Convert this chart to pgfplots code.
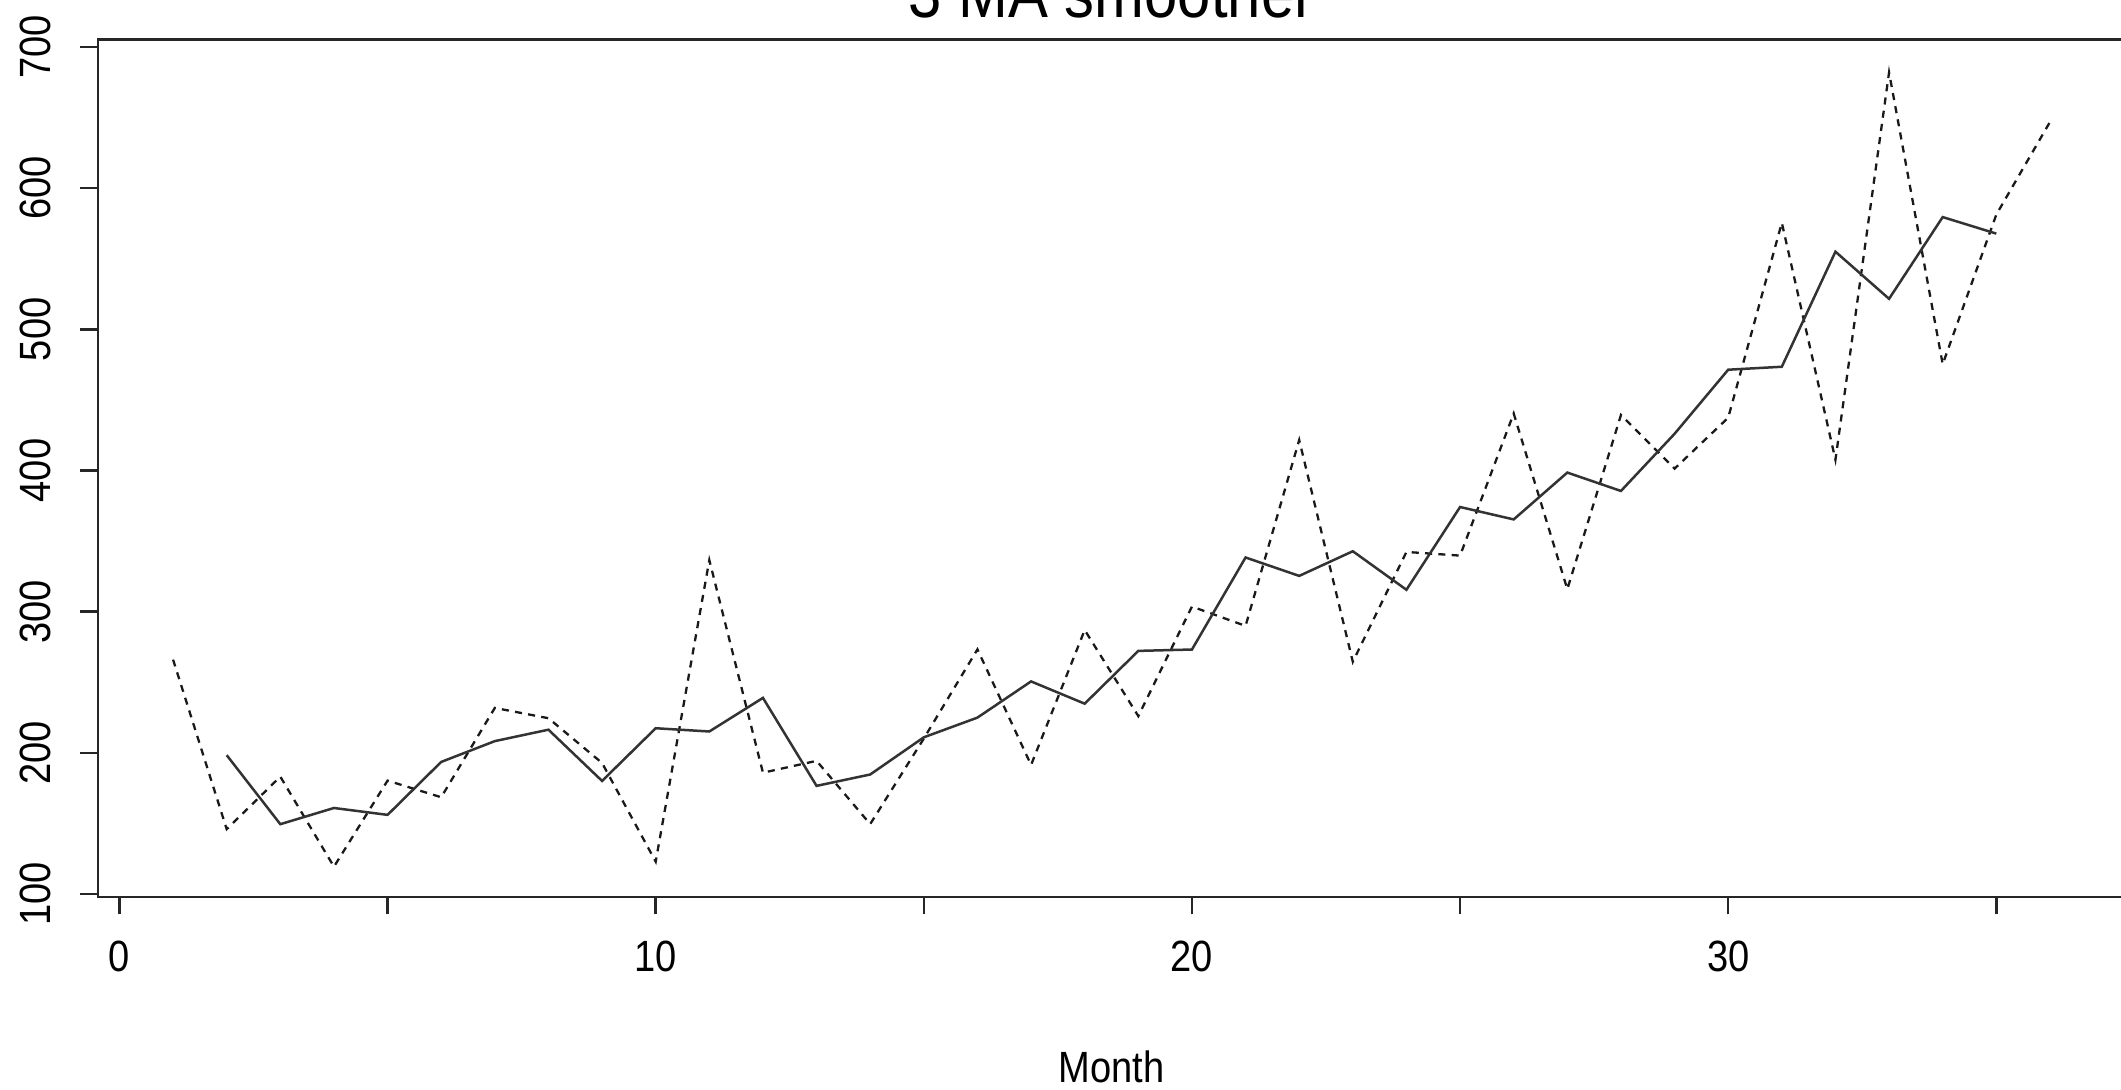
\documentclass[border=0pt]{standalone}
\usepackage{fontspec}
\setmainfont[FakeStretch=0.87]{Liberation Sans}
\usepackage{pgfplots}
\pgfplotsset{compat=1.18}
\begin{document}
\begin{tikzpicture}
\useasboundingbox (0,0) rectangle (509.04pt,261.6pt);
\clip (0,0) rectangle (509.04pt,261.6pt);
\begin{axis}[
  at={(23.52pt,46.37pt)}, anchor=south west,
  scale only axis, width=486.48pt, height=205.8pt,
  xmin=-0.4, xmax=37.4, ymin=98, ymax=705.5,
  axis line style={line width=0.6pt, black!85},
  every tick/.style={line width=0.6pt, black!85},
  tick align=outside, major tick length=4.2pt,
  xtick pos=bottom, ytick pos=left,
  xtick={0,5,...,35}, xticklabels={0,,10,,20,,30,,},
  ytick={100,200,...,700},
  /pgf/number format/assume math mode=true,
  tick label style={font=\fontsize{10.5}{12}\selectfont},
  xticklabel style={anchor=north, inner sep=0pt},
  xticklabel shift=6.2pt,
  yticklabel style={rotate=90, anchor=south, inner sep=0pt},
  yticklabel shift=6.8pt,
  xlabel={Month},
  xlabel style={at={(axis description cs:0.5,0)}, anchor=base, yshift=-44.5pt, inner sep=0pt, font=\fontsize{10.5}{12}\selectfont},
  every axis title shift=0pt,
  title={3 MA smoother},
  title style={at={(axis description cs:0.5,1)}, anchor=base, yshift=5.3pt, inner sep=0pt, font=\fontsize{16.5}{18}\selectfont},
]
\addplot[black!90, line width=0.55pt, dash pattern=on 1.7pt off 1.5pt] coordinates {
(1,266.0) (2,145.9) (3,183.1) (4,119.3) (5,180.3) (6,168.5) (7,231.8) (8,224.5) (9,192.8) (10,122.9)
(11,336.5) (12,185.9) (13,194.3) (14,149.5) (15,210.1) (16,273.3) (17,191.4) (18,287.0) (19,226.0) (20,303.6)
(21,289.9) (22,421.6) (23,264.5) (24,342.3) (25,339.7) (26,440.4) (27,315.9) (28,439.3) (29,401.3) (30,437.4)
(31,575.5) (32,407.6) (33,682.0) (34,475.3) (35,581.3) (36,646.9)
};
\addplot[black!80, line width=0.6pt] coordinates {
(2,198.33) (3,149.43) (4,160.90) (5,156.03) (6,193.53) (7,208.27) (8,216.37) (9,180.07) (10,217.40)
(11,215.10) (12,238.90) (13,176.57) (14,184.63) (15,210.97) (16,224.93) (17,250.57) (18,234.80) (19,272.20)
(20,273.17) (21,338.37) (22,325.33) (23,342.80) (24,315.50) (25,374.13) (26,365.33) (27,398.53) (28,385.50)
(29,426.00) (30,471.40) (31,473.50) (32,555.03) (33,521.63) (34,579.53) (35,567.83)
};
\end{axis}
\end{tikzpicture}
\end{document}
